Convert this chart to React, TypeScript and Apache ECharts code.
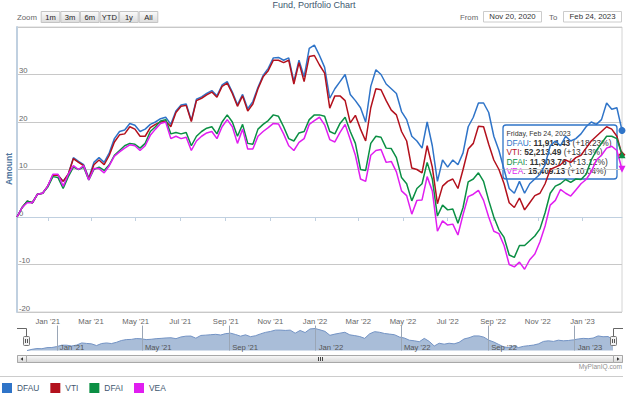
import React, { useEffect, useRef } from 'react';
import * as echarts from 'echarts';

// ---------- data (weekly closes, % return since start) ----------
const startYear = 2020;
const startMonth = 10; // November (0-based)
const startDay = 20;
const stepDays = 7;

const dfau = [
  0, 2.0, 3.3, 3.0, 4.8, 5.0, 6.5, 8.8, 8.8, 7.5,
  9.0, 12.5, 11.7, 11.0, 8.2, 11.5, 12.5, 11.5, 13.5, 16.5,
  18.0, 18.3, 19.7, 19.3, 18.0, 18.5, 19.5, 20.0, 20.7, 21.0,
  19.5, 22.3, 23.6, 23.8, 20.3, 24.8, 25.3, 26.0, 26.6, 25.5,
  27.8, 28.5, 26.3, 23.6, 25.8, 22.8, 24.3, 27.3, 29.8, 31.3,
  33.5, 33.6, 33.0, 33.5, 28.5, 33.0, 29.5, 35.5, 36.2, 34.0,
  31.5, 25.0, 27.0, 28.5, 30.0, 25.8, 24.5, 23.0, 20.0, 27.5,
  31.0, 30.0, 28.0, 27.0, 26.0, 22.2, 20.5, 17.0, 16.0, 14.5,
  20.0, 15.0, 7.5, 12.0, 10.5, 12.0, 11.0, 13.5, 19.0, 21.0,
  24.0, 24.0, 22.0, 17.0, 14.0, 10.0, 6.0, 5.0, 7.5, 5.0,
  7.0, 8.0, 9.0, 11.0, 15.0, 16.0, 15.0, 17.0, 16.0, 16.5,
  17.5, 19.0, 20.0, 19.5, 20.5, 24.0, 22.7, 23.0, 18.23,
];
const vti = [
  0, 2.0, 3.3, 3.0, 4.8, 5.0, 6.5, 8.8, 8.8, 7.5,
  9.0, 12.3, 11.5, 10.8, 8.0, 11.0, 12.0, 11.0, 13.0, 15.8,
  17.3, 17.5, 19.0, 18.5, 17.0, 17.0, 18.8, 19.5, 20.0, 20.2,
  19.0, 22.0, 23.3, 23.5, 20.1, 24.5, 25.0, 25.7, 26.3, 25.2,
  27.5, 28.2, 26.0, 23.3, 25.5, 22.3, 23.8, 27.0, 29.5, 30.8,
  33.0, 33.0, 32.5, 33.0, 28.0, 32.5, 28.5, 33.8, 34.0, 32.0,
  30.3, 22.9, 25.5, 25.5, 24.5, 19.8, 21.4, 18.5, 16.0, 23.0,
  27.0, 26.8, 24.5, 22.5, 21.5, 18.0, 16.0, 10.3, 10.0, 9.3,
  15.0, 10.5, 2.8, 6.5, 7.5, 8.0, 6.0, 10.0, 14.3, 15.5,
  19.1, 19.0, 15.3, 12.0, 10.0, 7.0, 3.0, 2.0, 4.0, 1.5,
  3.0, 4.5, 5.0, 7.0, 10.0, 10.5, 11.0, 12.0, 11.5, 12.5,
  13.0, 14.5, 16.0, 17.0, 18.0, 19.0, 18.5, 17.0, 13.13,
];
const dfai = [
  0, 2.0, 3.3, 3.0, 4.8, 5.0, 6.3, 8.5, 8.3, 6.0,
  8.5, 10.5, 10.0, 10.5, 7.8, 10.0, 10.5, 9.8, 11.0, 13.0,
  14.0, 15.0, 15.5, 15.3, 14.5, 15.5, 18.0, 19.0, 20.2, 20.5,
  17.5, 17.8, 17.5, 17.8, 15.0, 17.0, 18.0, 18.7, 19.0, 17.5,
  20.0, 21.5, 20.0, 17.0, 19.5, 15.5, 15.3, 18.5, 19.5, 20.3,
  21.5, 21.2, 19.0, 16.5, 16.0, 17.7, 18.0, 20.5, 21.5, 21.5,
  21.2, 18.0, 17.5, 19.7, 21.0, 18.0, 15.5, 10.0, 9.8, 15.5,
  17.0, 16.8, 14.5, 14.4, 12.5, 8.3, 7.0, 3.4, 6.0, 7.0,
  11.5, 8.0, 0.2, 2.5, 1.5, 1.7, -1.3, 2.0, 7.4, 8.0,
  9.3, 7.5, 3.5, 0.0, -2.7, -4.3, -8.0, -8.5, -6.0, -6.0,
  -5.0, -4.0, -2.5, 0.9, 5.0, 6.5, 7.0, 7.9, 7.3, 8.0,
  7.9, 9.0, 12.0, 14.0, 15.5, 17.0, 17.0, 16.5, 13.12,
];
const vea = [
  0, 2.0, 3.0, 3.0, 4.8, 5.0, 6.5, 9.0, 9.0, 6.5,
  9.0, 10.8, 10.0, 10.8, 7.8, 10.2, 10.2, 9.3, 10.8, 12.8,
  13.7, 14.5, 15.2, 15.0, 14.0, 15.0, 17.2, 18.5, 19.7, 20.0,
  16.5, 17.0, 16.5, 16.8, 14.0, 16.0, 17.0, 17.7, 18.0, 16.5,
  19.0, 20.5, 19.0, 15.5, 18.5, 14.3, 14.3, 17.0, 18.0, 18.8,
  19.7, 19.6, 17.5, 15.0, 14.0, 15.7, 16.5, 19.5, 20.3, 21.0,
  19.4, 16.3, 15.8, 17.8, 19.5, 16.3, 13.0, 8.0, 7.5, 13.0,
  14.0, 14.2, 11.5, 11.7, 9.5, 5.5, 4.5, 0.6, 3.5, 3.6,
  8.5, 5.5, -3.0, -0.8, -1.7, -1.5, -3.8, 0.5, 4.3, 4.8,
  5.6, 3.5, 0.0, -3.0, -3.5, -6.0, -10.0, -10.5, -9.5, -11.0,
  -9.0, -7.8, -5.2, -1.9, 2.5, 3.5, 5.8, 5.0, 4.4, 5.7,
  7.0, 7.9, 9.5, 12.0, 13.0, 14.5, 14.9, 14.0, 10.04,
];

const seriesNames = ['DFAU', 'VTI', 'DFAI', 'VEA'];
const seriesColors = ['#2f74c8', '#b3111d', '#0b8f44', '#e01ef0'];
const seriesValues = [dfau, vti, dfai, vea];
const endSymbols = ['circle', 'diamond', 'triangle', 'triangle'];
const endRotations = [0, 0, 0, 180];

const mainTickDates = [
  '2021-01-01', '2021-03-01', '2021-05-01', '2021-07-01', '2021-09-01', '2021-11-01',
  '2022-01-01', '2022-03-01', '2022-05-01', '2022-07-01', '2022-09-01', '2022-11-01',
  '2023-01-01',
];
const navTickDates = [
  '2021-01-01', '2021-05-01', '2021-09-01', '2022-01-01', '2022-05-01', '2022-09-01', '2023-01-01',
];
const monthNames = ['Jan', 'Feb', 'Mar', 'Apr', 'May', 'Jun', 'Jul', 'Aug', 'Sep', 'Oct', 'Nov', 'Dec'];
const yMin = -20;
const yMax = 40;
const yInterval = 10;

const zoomButtons = ['1m', '3m', '6m', 'YTD', '1y', 'All'];
const fromDateText = 'Nov 20, 2020';
const toDateText = 'Feb 24, 2023';
const titleText = 'Fund, Portfolio Chart';
const tooltipHeader = 'Friday, Feb 24, 2023';
const tooltipValues = ['11,914.43', '52,213.49', '11,303.76', '15,409.13'];
const tooltipChanges = ['+18.23%', '+13.13%', '+13.12%', '+10.04%'];

const FONT = '"Liberation Sans", Arial, Helvetica, sans-serif';

function parseDate(s: string): number {
  const [y, m, d] = s.split('-').map(Number);
  return new Date(y, m - 1, d).getTime();
}
function fmtMonth(v: number): string {
  const d = new Date(v);
  return `${monthNames[d.getMonth()]} '${String(d.getFullYear()).slice(2)}`;
}

export default function App() {
  const ref = useRef<HTMLDivElement>(null);

  useEffect(() => {
    document.body.style.margin = '0';
    if (!ref.current) return;
    const chart = echarts.init(ref.current, undefined, { renderer: 'svg' });

    const times = dfau.map((_, i) => new Date(startYear, startMonth, startDay + stepDays * i).getTime());
    const tMin = times[0];
    const tMax = times[times.length - 1];
    const mainTicks = mainTickDates.map(parseDate);
    const navTicks = navTickDates.map(parseDate);

    const mainSeries = seriesValues.map((vals, s) => ({
      name: seriesNames[s],
      type: 'line',
      xAxisIndex: 0,
      yAxisIndex: 0,
      symbol: 'none',
      showSymbol: true,
      silent: true,
      color: seriesColors[s],
      lineStyle: { color: seriesColors[s], width: 1.5 },
      itemStyle: { color: seriesColors[s] },
      data: vals.map((v, i) =>
        i === vals.length - 1
          ? { value: [times[i], v], symbol: endSymbols[s], symbolSize: 7, symbolRotate: endRotations[s] }
          : [times[i], v]
      ),
    }));

    const navSeries = {
      type: 'line',
      xAxisIndex: 1,
      yAxisIndex: 1,
      symbol: 'none',
      silent: true,
      lineStyle: { color: '#7393c4', width: 1 },
      areaStyle: { color: '#a9bdd8', opacity: 1 },
      data: dfau.map((v, i) => [times[i], v]),
      z: 1,
    };

    const btnW = 19.6;
    const btnX0 = 40.7;
    const buttons: any[] = [];
    zoomButtons.forEach((b, k) => {
      buttons.push({
        type: 'rect',
        shape: { x: btnX0 + k * btnW + 0.5, y: 11.5, width: btnW - 1, height: 11 },
        style: {
          fill: new echarts.graphic.LinearGradient(0, 0, 0, 1, [
            { offset: 0, color: '#fbfbfb' },
            { offset: 1, color: '#dcdcdc' },
          ]),
          stroke: '#c4c4c4',
          lineWidth: 1,
        },
      });
      buttons.push({
        type: 'text',
        x: btnX0 + k * btnW + btnW / 2,
        y: 17.2,
        style: { text: b, fontSize: 7.6, fontFamily: FONT, fill: '#222', align: 'center', verticalAlign: 'middle' },
      });
    });

    const tooltipRowsG = seriesNames.map((n, s) => ({
      type: 'text',
      x: 506.5,
      y: 143.2 + s * 9.2,
      style: {
        text: `{n|${n}}: {v|${tooltipValues[s]}} (${tooltipChanges[s]})`,
        fontSize: 8.4,
        fontFamily: FONT,
        fill: '#333',
        verticalAlign: 'middle',
        rich: {
          n: { fill: seriesColors[s], fontSize: 8.4, fontFamily: FONT },
          v: { fill: '#333', fontWeight: 'bold', fontSize: 8.4, fontFamily: FONT },
        },
      },
    }));

    const gradFill = () =>
      new echarts.graphic.LinearGradient(0, 0, 0, 1, [
        { offset: 0, color: '#fafafa' },
        { offset: 1, color: '#d6d6d6' },
      ]);

    const graphic: any[] = [
      {
        type: 'text', x: 314, y: 0.5,
        style: { text: titleText, fontSize: 9, fontFamily: FONT, fill: '#3e576f', align: 'center', verticalAlign: 'top' },
      },
      {
        type: 'text', x: 17, y: 17.2,
        style: { text: 'Zoom', fontSize: 7.8, fontFamily: FONT, fill: '#666', align: 'left', verticalAlign: 'middle' },
      },
      ...buttons,
      {
        type: 'text', x: 460, y: 17,
        style: { text: 'From', fontSize: 7.8, fontFamily: FONT, fill: '#666', align: 'left', verticalAlign: 'middle' },
      },
      {
        type: 'rect', shape: { x: 483.5, y: 11.5, width: 58, height: 10.5 },
        style: { fill: '#fff', stroke: '#cccccc', lineWidth: 1 },
      },
      {
        type: 'text', x: 512.5, y: 16.8,
        style: { text: fromDateText, fontSize: 7.8, fontFamily: FONT, fill: '#333', align: 'center', verticalAlign: 'middle' },
      },
      {
        type: 'text', x: 549, y: 17,
        style: { text: 'To', fontSize: 7.8, fontFamily: FONT, fill: '#666', align: 'left', verticalAlign: 'middle' },
      },
      {
        type: 'rect', shape: { x: 563.5, y: 11.5, width: 58, height: 10.5 },
        style: { fill: '#fff', stroke: '#cccccc', lineWidth: 1 },
      },
      {
        type: 'text', x: 592.5, y: 16.8,
        style: { text: toDateText, fontSize: 7.8, fontFamily: FONT, fill: '#333', align: 'center', verticalAlign: 'middle' },
      },
      {
        type: 'text', x: 8.5, y: 169, rotation: Math.PI / 2,
        style: { text: 'Amount', fontSize: 8.5, fontWeight: 'bold', fontFamily: FONT, fill: '#4d759e', align: 'center', verticalAlign: 'middle' },
      },
      {
        type: 'group',
        z: 100,
        children: [
          {
            type: 'rect', shape: { x: 503, y: 125, width: 114, height: 54, r: 3 },
            style: { fill: 'rgba(255,255,255,0.85)', stroke: seriesColors[0], lineWidth: 1.3 },
          },
          {
            type: 'text', x: 506.5, y: 133.3,
            style: { text: tooltipHeader, fontSize: 7, fontFamily: FONT, fill: '#333', verticalAlign: 'middle' },
          },
          ...tooltipRowsG,
        ],
      },
      {
        type: 'polyline', shape: { points: [[17, 328.5], [26.5, 328.5], [26.5, 337]] },
        style: { stroke: '#666', lineWidth: 1, fill: null },
      },
      {
        type: 'polyline', shape: { points: [[613.5, 337], [613.5, 328.5], [623, 328.5]] },
        style: { stroke: '#666', lineWidth: 1, fill: null },
      },
      ...[23.5, 610.5].flatMap((hx) => [
        {
          type: 'rect', shape: { x: hx, y: 336.5, width: 6, height: 9, r: 1 },
          style: { fill: '#f2f2f2', stroke: '#777', lineWidth: 1 },
          z: 50,
        },
        {
          type: 'line', shape: { x1: hx + 2, y1: 339, x2: hx + 2, y2: 343 },
          style: { stroke: '#555', lineWidth: 1 }, z: 51,
        },
        {
          type: 'line', shape: { x1: hx + 4, y1: 339, x2: hx + 4, y2: 343 },
          style: { stroke: '#555', lineWidth: 1 }, z: 51,
        },
      ]),
      {
        type: 'rect', shape: { x: 17.5, y: 355.5, width: 605, height: 7 },
        style: { fill: '#eeeeee', stroke: '#bbbbbb', lineWidth: 1 },
      },
      {
        type: 'rect', shape: { x: 26.5, y: 355.5, width: 587, height: 7 },
        style: { fill: gradFill(), stroke: '#a8a8a8', lineWidth: 1 },
      },
      ...[318, 320, 322].map((gx) => ({
        type: 'line', shape: { x1: gx + 0.5, y1: 357, x2: gx + 0.5, y2: 361 },
        style: { stroke: '#444', lineWidth: 1 },
      })),
      {
        type: 'rect', shape: { x: 17.5, y: 355.5, width: 9, height: 7 },
        style: { fill: gradFill(), stroke: '#a8a8a8', lineWidth: 1 },
      },
      {
        type: 'polygon', shape: { points: [[23, 357.2], [23, 360.8], [20.5, 359]] },
        style: { fill: '#333' },
      },
      {
        type: 'rect', shape: { x: 613.5, y: 355.5, width: 9, height: 7 },
        style: { fill: gradFill(), stroke: '#a8a8a8', lineWidth: 1 },
      },
      {
        type: 'polygon', shape: { points: [[617, 357.2], [617, 360.8], [619.5, 359]] },
        style: { fill: '#333' },
      },
      {
        type: 'text', x: 622, y: 366.8,
        style: { text: 'MyPlanIQ.com', fontSize: 6.6, fontFamily: FONT, fill: '#909090', align: 'right', verticalAlign: 'middle' },
      },
      {
        type: 'line', shape: { x1: 0, y1: 376.5, x2: 623, y2: 376.5 },
        style: { stroke: '#cccccc', lineWidth: 1 },
      },
    ];

    const option: any = {
      animation: false,
      backgroundColor: '#ffffff',
      textStyle: { fontFamily: FONT },
      grid: [
        { left: 17, right: 8, top: 27, height: 285, show: true, borderColor: '#d4d4d4', borderWidth: 1 },
        { left: 27, right: 17, top: 328, height: 25, show: false },
      ],
      xAxis: [
        {
          type: 'value',
          gridIndex: 0,
          min: tMin,
          max: tMax,
          axisLine: { show: true, lineStyle: { color: '#c0d0e0', width: 1 } },
          axisTick: { show: true, customValues: mainTicks, length: 4, lineStyle: { color: '#c0d0e0' } },
          axisLabel: {
            customValues: mainTicks,
            formatter: (v: number) => fmtMonth(v),
            fontSize: 7.7,
            color: '#666',
            margin: 5,
            fontFamily: FONT,
          },
          splitLine: { show: false },
        },
        {
          type: 'value',
          gridIndex: 1,
          min: tMin,
          max: tMax,
          z: 5,
          axisLine: { show: false },
          axisTick: { show: true, customValues: navTicks, inside: true, length: 25, lineStyle: { color: '#9aa6b6', width: 1 } },
          axisLabel: {
            customValues: navTicks,
            inside: true,
            formatter: (v: number) => fmtMonth(v),
            fontSize: 7.7,
            color: '#555',
            margin: 1.5,
            align: 'left',
            padding: [0, 0, 0, 3],
            fontFamily: FONT,
          },
          splitLine: { show: false },
        },
      ],
      yAxis: [
        {
          type: 'value',
          gridIndex: 0,
          min: yMin,
          max: yMax,
          interval: yInterval,
          axisLine: { show: true, lineStyle: { color: '#c0d0e0', width: 2 } },
          axisTick: { show: false },
          axisLabel: {
            inside: true,
            verticalAlign: 'bottom',
            margin: 2,
            fontSize: 7.7,
            color: '#666',
            fontFamily: FONT,
            formatter: (v: number) => (v === yMax ? '' : String(v)),
          },
          splitLine: { show: true, lineStyle: { color: '#c8c8c8', width: 1 } },
        },
        {
          type: 'value',
          gridIndex: 1,
          min: -4,
          max: 37,
          show: false,
          splitLine: { show: false },
        },
      ],
      legend: {
        data: seriesNames,
        left: 2,
        top: 383,
        padding: 0,
        icon: 'rect',
        itemWidth: 10,
        itemHeight: 10,
        itemGap: 11,
        selectedMode: false,
        textStyle: { fontSize: 8.4, color: '#3e576f', fontFamily: FONT },
      },
      series: [...mainSeries, navSeries],
      graphic,
    };

    chart.setOption(option);
    return () => chart.dispose();
  }, []);

  return (
    <div
      ref={ref}
      style={{ width: 630, height: 396, position: 'absolute', left: 0, top: 0 }}
    />
  );
}
